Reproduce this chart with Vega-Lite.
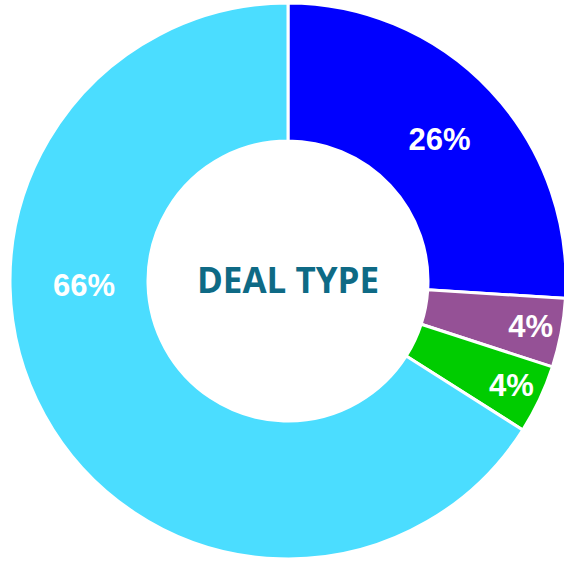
{
  "$schema": "https://vega.github.io/schema/vega-lite/v6.json",
  "width": 576,
  "height": 562,
  "autosize": {"type": "none"},
  "padding": 0,
  "background": "white",
  "view": {"stroke": null},
  "data": {"values": [
    {"type": "A", "value": 26, "label": "26%", "ord": 1},
    {"type": "B", "value": 4, "label": "4%", "ord": 2},
    {"type": "C", "value": 4, "label": "4%", "ord": 3},
    {"type": "D", "value": 66, "label": "66%", "ord": 4}
  ]},
  "encoding": {
    "theta": {"field": "value", "type": "quantitative", "stack": true},
    "order": {"field": "ord", "type": "quantitative"}
  },
  "layer": [
    {
      "mark": {"type": "arc", "outerRadius": 278, "innerRadius": 140, "stroke": "white", "strokeWidth": 3},
      "encoding": {
        "color": {"field": "type", "type": "nominal", "legend": null,
          "scale": {"domain": ["A", "B", "C", "D"], "range": ["#0000FF", "#955196", "#00CC00", "#4BDDFF"]}}
      }
    },
    {
      "mark": {"type": "text", "radius": 208, "dy": 2, "font": "Liberation Sans", "fontWeight": "bold", "fontSize": 31, "fill": "white"},
      "encoding": {
        "text": {"condition": {"test": "datum.type != 'A'", "value": ""}, "field": "label"}
      }
    },
    {
      "mark": {"type": "text", "radius": 204, "thetaOffset": 0.48, "dy": 1, "font": "Liberation Sans", "fontWeight": "bold", "fontSize": 31, "fill": "white"},
      "encoding": {
        "text": {"condition": {"test": "datum.type != 'D'", "value": ""}, "field": "label"}
      }
    },
    {
      "mark": {"type": "text", "radius": 247, "dy": 1, "font": "Liberation Sans", "fontWeight": "bold", "fontSize": 31, "fill": "white"},
      "encoding": {
        "text": {"condition": {"test": "datum.value >= 10", "value": ""}, "field": "label"}
      }
    },
    {
      "data": {"values": [{"t": "DEAL TYPE"}]},
      "mark": {"type": "text", "font": "Open Sans", "fontWeight": "bold", "fontSize": 35, "fill": "#0E6A85", "baseline": "middle", "dy": 1},
      "encoding": {"text": {"field": "t"}, "theta": null, "order": null}
    }
  ]
}
